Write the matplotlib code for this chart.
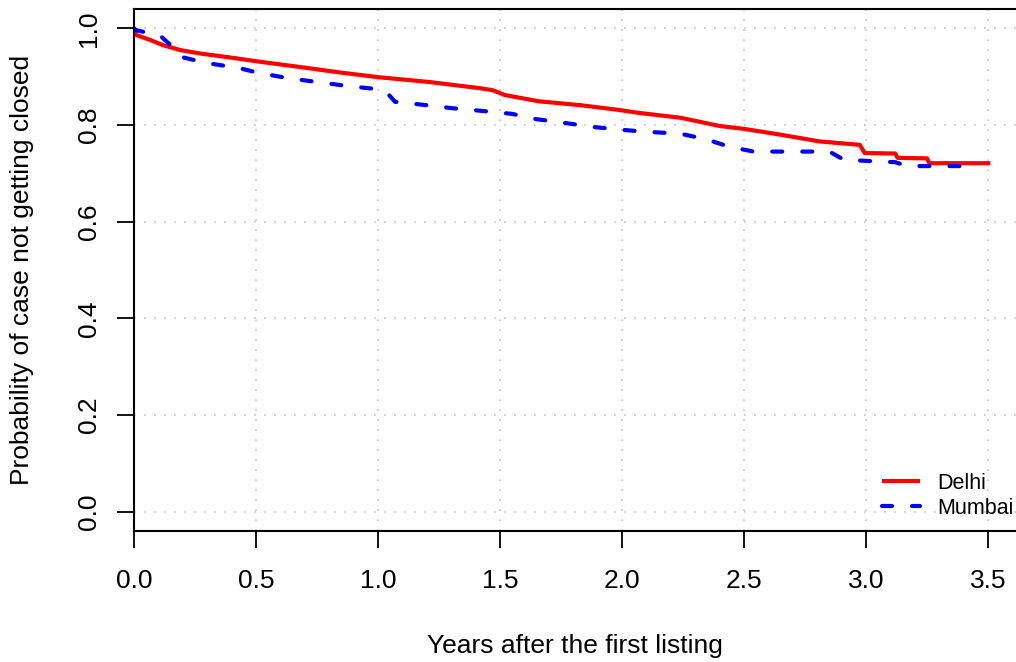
import matplotlib
matplotlib.use("Agg")
import matplotlib.pyplot as plt

plt.rcParams['font.family'] = ['Liberation Sans', 'DejaVu Sans']

# survival curves (years, probability)
delhi_t = [0, 0.01, 0.066, 0.12, 0.19, 0.27, 0.39, 0.5, 0.68, 0.84, 1.0, 1.21, 1.42,
           1.47, 1.5, 1.52, 1.66, 1.83, 1.99, 2.07, 2.24, 2.40, 2.5, 2.65, 2.81,
           2.975, 2.995, 3.12, 3.13, 3.25, 3.26, 3.51]
delhi_s = [0.996, 0.986, 0.976, 0.965, 0.955, 0.948, 0.94, 0.932, 0.92, 0.909, 0.899,
           0.889, 0.876, 0.872, 0.866, 0.862, 0.849, 0.841, 0.831, 0.825, 0.815,
           0.798, 0.792, 0.78, 0.766, 0.759, 0.742, 0.741, 0.732, 0.731, 0.721, 0.721]

mumbai_t = [0, 0.01, 0.107, 0.135, 0.175, 0.2, 0.3, 0.43, 0.5, 0.63, 0.75, 0.87, 1.0,
            1.04, 1.07, 1.2, 1.3, 1.43, 1.55, 1.65, 1.77, 1.88, 2.0, 2.1, 2.24,
            2.33, 2.36, 2.44, 2.54, 2.85, 2.91, 3.12, 3.17, 3.46]
mumbai_s = [1.0, 0.996, 0.985, 0.972, 0.955, 0.94, 0.928, 0.918, 0.909, 0.897, 0.889,
            0.881, 0.874, 0.865, 0.848, 0.841, 0.835, 0.829, 0.823, 0.812, 0.804,
            0.796, 0.79, 0.786, 0.782, 0.772, 0.768, 0.755, 0.745, 0.745, 0.728,
            0.723, 0.715, 0.715]

x_ticks = [0.0, 0.5, 1.0, 1.5, 2.0, 2.5, 3.0, 3.5]
y_ticks = [0.0, 0.2, 0.4, 0.6, 0.8, 1.0]

fig = plt.figure(figsize=(10.16, 6.62), dpi=100)
ax = fig.add_axes([134 / 1016, 1 - 531 / 662, 882 / 1016, 522 / 662])

# dotted light gray grid
for xv in x_ticks:
    ax.axvline(xv, color='#c4c4c4', lw=1.2, ls=(0, (1, 5)), zorder=0)
for yv in y_ticks:
    ax.axhline(yv, color='#c4c4c4', lw=1.2, ls=(0, (1, 5)), zorder=0)

ax.plot(delhi_t, delhi_s, color='red', lw=3, solid_capstyle='butt', label='Delhi')
ax.plot(mumbai_t, mumbai_s, color='blue', lw=3, ls=(0, (2.4, 4.8)),
        dash_capstyle='round', label='Mumbai')

ax.set_xlim(0, 3.615)
ax.set_ylim(-0.04, 1.04)
ax.spines['right'].set_visible(False)
for s in ['left', 'top', 'bottom']:
    ax.spines[s].set_linewidth(1.5)

ax.set_xticks(x_ticks, [f'{v:.1f}' for v in x_ticks])
ax.set_yticks(y_ticks, [f'{v:.1f}' for v in y_ticks])
ax.tick_params(axis='x', length=12, width=1.3, labelsize=19, pad=15)
ax.tick_params(axis='y', length=12, width=1.3, labelsize=19, pad=12)
for lab in ax.get_yticklabels():
    lab.set_rotation(90)
    lab.set_va('center')

ax.set_xlabel('Years after the first listing', fontsize=19)
ax.set_ylabel('Probability of case not getting closed', fontsize=19)
ax.xaxis.set_label_coords(0.5, (531 - 646) / 522)
ax.xaxis.label.set_va('center')
ax.yaxis.set_label_coords((22 - 134) / 882, 0.5)
ax.yaxis.label.set_va('center')

ax.legend(loc='lower right', bbox_to_anchor=(1.0, (662 - 521) / 662),
          bbox_transform=fig.transFigure, frameon=False, fontsize=15.5,
          handlelength=1.8, handletextpad=0.8, borderpad=0, borderaxespad=0.1,
          labelspacing=0.2)

fig.savefig('out.png', dpi=100)
